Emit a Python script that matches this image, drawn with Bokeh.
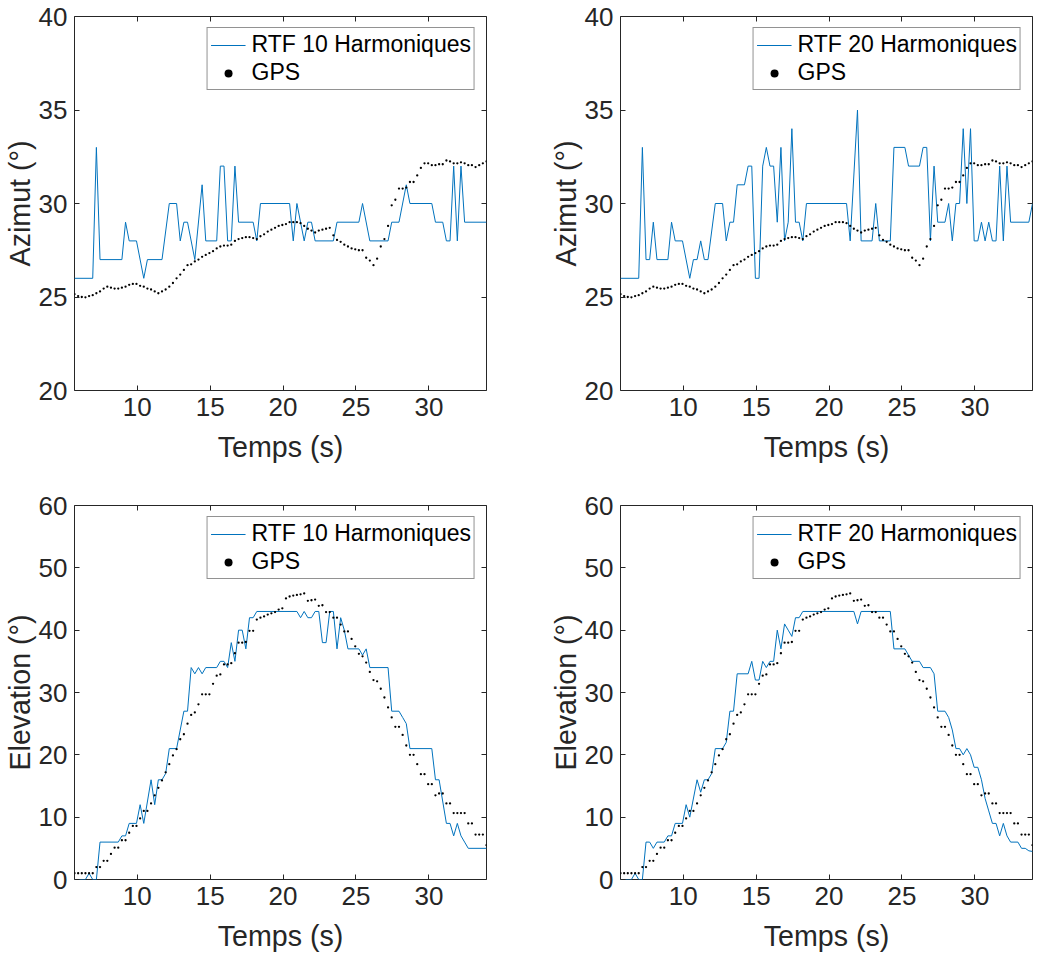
from bokeh.plotting import figure
from bokeh.layouts import column, row
from bokeh.models import (LinearAxis, Range1d, FixedTicker, Legend, LegendItem,
                          CustomJSTickFormatter)
from bokeh.embed import file_html
from bokeh.resources import INLINE

# ---------------- data ----------------
T0 = 5.7      # first sample time (s)
DT = 0.25     # sampling step (s)
X_START, X_END = 5.7, 33.95

gps_azimut = [
    25.15, 25.05, 25.00, 24.98, 25.05, 25.10, 25.20, 25.30, 25.45, 25.55,
    25.50, 25.45, 25.45, 25.50, 25.55, 25.65, 25.70, 25.70, 25.60, 25.55,
    25.45, 25.40, 25.30, 25.20, 25.30, 25.40, 25.55, 25.75, 26.00, 26.20,
    26.45, 26.70, 26.75, 26.90, 27.00, 27.15, 27.25, 27.35, 27.45, 27.60,
    27.70, 27.75, 27.75, 27.80, 28.00, 28.10, 28.15, 28.20, 28.20, 28.15,
    28.10, 28.25, 28.35, 28.50, 28.60, 28.70, 28.80, 28.85, 28.90, 29.00,
    29.00, 29.00, 28.95, 28.80, 28.65, 28.55, 28.45, 28.55, 28.60, 28.65,
    28.70, 28.30, 28.05, 27.95, 27.80, 27.70, 27.60, 27.55, 27.50, 27.50,
    27.10, 26.95, 26.70, 27.05, 27.70, 28.10, 28.80, 29.90, 30.20, 30.80,
    30.80, 30.85, 31.15, 31.15, 31.50, 31.90, 32.15, 32.15, 32.05, 32.05,
    32.10, 32.10, 32.30, 32.25, 32.15, 32.15, 32.20, 32.15, 32.05, 32.05,
    31.95, 32.05, 32.15, 32.25,
]

gps_elevation = [
    1.0, 1.0, 1.0, 1.0, 1.0, 1.0, 2.0, 2.0, 3.0, 3.0,
    4.1, 5.1, 5.1, 6.3, 6.3, 7.5, 8.6, 8.6, 9.8, 11.0,
    11.0, 12.2, 13.5, 14.7, 15.9, 17.2, 18.5, 19.9, 20.9, 22.5,
    23.3, 25.0, 26.4, 26.8, 28.1, 29.7, 29.7, 29.7, 31.4, 32.7,
    32.9, 34.5, 34.5, 34.7, 36.3, 38.0, 38.0, 38.1, 39.9, 39.9,
    41.7, 42.0, 42.2, 42.5, 42.7, 42.9, 43.3, 43.5, 45.1, 45.4,
    45.55, 45.65, 45.75, 45.9, 44.7, 44.8, 44.9, 43.9, 44.0, 42.9,
    42.9, 42.0, 42.0, 40.9, 39.8, 39.8, 38.6, 37.4, 36.2, 35.8,
    34.8, 33.3, 32.0, 31.8, 30.6, 29.2, 27.6, 26.0, 24.5, 24.5,
    23.2, 21.5, 20.0, 20.0, 18.5, 16.9, 16.9, 15.3, 15.3, 13.5,
    13.8, 13.8, 12.2, 12.2, 10.65, 10.65, 10.65, 10.65, 9.0, 9.0,
    7.2, 7.2, 7.2, 5.5,
]

# RTF estimates: (time, value) vertices of the polyline
rtf10_azimut = [
    (5.7, 26), (6.95, 26), (7.2, 33), (7.45, 27), (8.95, 27), (9.2, 29), (9.45, 28),
    (9.95, 28), (10.45, 26), (10.7, 27), (11.7, 27), (12.2, 30), (12.7, 30), (12.95, 28),
    (13.2, 29), (13.45, 29), (13.95, 27), (14.45, 31), (14.7, 28), (15.45, 28), (15.7, 32),
    (15.95, 32), (16.2, 28), (16.45, 28), (16.7, 32), (16.95, 29), (17.95, 29), (18.2, 28),
    (18.45, 30), (20.45, 30), (20.7, 28), (20.95, 30), (21.45, 28), (21.7, 29), (21.95, 29),
    (22.2, 28), (23.45, 28), (23.7, 29), (25.2, 29), (25.45, 30), (25.95, 28), (27.2, 28),
    (27.45, 29), (27.95, 29), (28.45, 31), (28.7, 30), (30.2, 30), (30.45, 29), (30.95, 29),
    (31.2, 28), (31.45, 28), (31.7, 32), (31.95, 28), (32.2, 32), (32.45, 29), (33.95, 29),
]

rtf20_azimut = [
    (5.7, 26), (6.95, 26), (7.2, 33), (7.45, 27), (7.7, 27), (7.95, 29), (8.2, 27),
    (8.95, 27), (9.2, 29), (9.45, 28), (9.95, 28), (10.45, 26), (10.7, 27), (10.95, 27),
    (11.2, 28), (11.45, 27), (11.7, 27), (12.2, 30), (12.7, 30), (12.95, 28), (13.2, 29),
    (13.45, 29), (13.7, 31), (14.2, 31), (14.45, 32), (14.7, 32), (14.95, 26), (15.2, 26),
    (15.45, 32), (15.7, 33), (15.95, 32), (16.2, 32), (16.45, 29), (16.7, 33), (16.95, 28),
    (17.2, 29), (17.45, 34), (17.7, 29), (17.95, 29), (18.2, 28), (18.45, 30), (21.2, 30),
    (21.45, 28), (21.95, 35), (22.2, 28), (22.95, 28), (23.2, 30), (23.45, 28), (24.2, 28),
    (24.45, 33), (25.2, 33), (25.45, 32), (26.2, 32), (26.45, 33), (26.7, 33), (26.95, 28),
    (27.2, 32), (27.45, 29), (27.95, 29), (28.2, 30), (28.45, 28), (28.7, 30), (28.95, 30),
    (29.2, 34), (29.45, 30), (29.7, 34), (29.95, 28), (30.2, 28), (30.45, 29), (30.7, 28),
    (30.95, 29), (31.2, 28), (31.45, 28), (31.7, 32), (31.95, 28), (32.2, 32), (32.45, 29),
    (33.7, 29), (33.95, 30),
]

rtf10_elevation = [
    (5.7, 0), (6.45, 0), (6.7, 1), (6.95, 0), (7.2, 0), (7.45, 6), (8.7, 6), (8.95, 7),
    (9.2, 7), (9.45, 9), (9.95, 9), (10.2, 12), (10.45, 9), (10.95, 16), (11.2, 12),
    (11.45, 16), (11.7, 16), (11.95, 17), (12.2, 21), (12.7, 21), (13.2, 27), (13.45, 27),
    (13.7, 34), (13.95, 33), (14.2, 34), (14.45, 33), (14.7, 34), (15.45, 34), (15.7, 35),
    (15.95, 35), (16.2, 34), (16.45, 38), (16.7, 35), (16.95, 40), (17.2, 40), (17.45, 37),
    (17.7, 42), (17.95, 42), (18.2, 43), (20.95, 43), (21.2, 42), (21.45, 43), (21.7, 42),
    (21.95, 42), (22.2, 43), (22.45, 43), (22.7, 38), (22.95, 38), (23.2, 43), (23.45, 43),
    (23.7, 37), (23.95, 42), (24.2, 40), (24.45, 37), (25.2, 37), (25.45, 36), (25.7, 37),
    (25.95, 34), (27.2, 34), (27.45, 27), (27.95, 27), (28.2, 26), (28.45, 25), (28.7, 21),
    (30.2, 21), (30.45, 16), (30.7, 16), (31.2, 9), (31.45, 9), (31.7, 7), (31.95, 9),
    (32.2, 7), (32.45, 6), (32.7, 5), (33.95, 5),
]

rtf20_elevation = [
    (5.7, 0), (6.45, 0), (6.7, 1), (6.95, 0), (7.2, 0), (7.45, 6), (7.7, 6), (7.95, 5),
    (8.2, 6), (8.7, 6), (8.95, 7), (9.2, 7), (9.45, 9), (9.95, 9), (10.2, 12), (10.45, 10),
    (10.95, 16), (11.2, 14), (11.45, 16), (11.7, 16), (11.95, 17), (12.2, 21), (12.7, 21),
    (12.95, 22), (13.2, 27), (13.45, 27), (13.7, 33), (14.45, 33), (14.7, 35), (14.95, 32),
    (15.2, 32), (15.45, 35), (15.7, 34), (15.95, 35), (16.2, 35), (16.45, 40), (16.7, 37),
    (16.95, 41), (17.2, 40), (17.45, 39), (17.7, 42), (17.95, 42), (18.2, 43), (21.7, 43),
    (21.95, 41), (22.2, 43), (24.2, 43), (24.45, 37), (25.2, 37), (25.45, 36), (25.7, 35),
    (26.2, 35), (26.45, 34), (26.95, 34), (27.2, 33), (27.45, 27), (27.95, 27), (28.2, 26),
    (28.45, 24), (28.7, 21), (28.95, 21), (29.2, 20), (29.45, 21), (29.7, 20), (29.95, 18),
    (30.2, 18), (30.45, 16), (30.7, 13), (30.95, 11), (31.2, 9), (31.45, 9), (31.7, 7),
    (31.95, 9), (32.2, 7), (32.45, 6), (32.95, 6), (33.2, 5), (33.45, 5), (33.7, 4.6),
    (33.95, 4.5),
]

x_ticks = [10, 15, 20, 25, 30]
az_range, az_ticks = (20, 40), [20, 25, 30, 35, 40]
el_range, el_ticks = (0, 60), [0, 10, 20, 30, 40, 50, 60]

# ---------------- style ----------------
FONT = "Liberation Sans"
AX_COL = "#262626"
LINE_COL = "#0072BD"
TICK_FS = "26px"
LABEL_FS = "28.6px"
LEG_FS = "23px"

FRAME_W, FRAME_H = 412, 374


def style_axis(ax, show_labels=True):
    ax.axis_line_color = None
    ax.major_tick_in = 5
    ax.major_tick_out = 0
    ax.minor_tick_in = 0
    ax.minor_tick_out = 0
    ax.major_tick_line_color = AX_COL
    ax.major_tick_line_width = 1
    if show_labels:
        ax.major_label_text_font = FONT
        ax.major_label_text_font_size = TICK_FS
        ax.major_label_text_color = AX_COL
        ax.axis_label_text_font = FONT
        ax.axis_label_text_font_size = LABEL_FS
        ax.axis_label_text_font_style = "normal"
        ax.axis_label_text_color = AX_COL
    else:
        ax.formatter = CustomJSTickFormatter(code="return '';")
        ax.major_label_text_font_size = "1px"
        ax.major_label_standoff = 0
        ax.axis_label_standoff = 0


def make_panel(line_pts, gps_vals, yr, yticks, ylabel, leg_label,
               mb_left, mb_right, mb_top, mb_bottom):
    p = figure(frame_width=FRAME_W, frame_height=FRAME_H,
               x_range=Range1d(X_START, X_END), y_range=Range1d(*yr),
               output_backend="svg", toolbar_location=None,
               min_border_left=mb_left, min_border_right=mb_right,
               min_border_top=mb_top, min_border_bottom=mb_bottom,
               background_fill_color="white", border_fill_color="white")
    p.xgrid.visible = False
    p.ygrid.visible = False
    p.outline_line_color = AX_COL
    p.outline_line_width = 1
    p.outline_line_alpha = 1

    p.xaxis.ticker = FixedTicker(ticks=x_ticks)
    p.yaxis.ticker = FixedTicker(ticks=yticks)
    p.xaxis.axis_label = "Temps (s)"
    p.yaxis.axis_label = ylabel
    for ax in p.xaxis:
        style_axis(ax)
        ax.major_label_standoff = 7
        ax.axis_label_standoff = 12
    for ax in p.yaxis:
        style_axis(ax)
        ax.major_label_standoff = 7
        ax.axis_label_standoff = 0

    top = LinearAxis(ticker=FixedTicker(ticks=x_ticks))
    style_axis(top, show_labels=False)
    p.add_layout(top, "above")
    right = LinearAxis(ticker=FixedTicker(ticks=yticks))
    style_axis(right, show_labels=False)
    p.add_layout(right, "right")

    lt = [pt[0] for pt in line_pts]
    lv = [pt[1] for pt in line_pts]
    r_line = p.line(lt, lv, line_color=LINE_COL, line_width=1)

    gt = [T0 + DT * i for i in range(len(gps_vals))]
    r_gps = p.scatter(gt, gps_vals, marker="circle", size=2.3,
                      fill_color="black", line_color=None)

    legend = Legend(items=[LegendItem(label=leg_label, renderers=[r_line]),
                           LegendItem(label="GPS", renderers=[r_gps])],
                    location="top_right", margin=11, padding=3, spacing=1,
                    glyph_width=35, glyph_height=20, label_standoff=6,
                    label_height=20,
                    label_text_font=FONT, label_text_font_size=LEG_FS,
                    label_text_color="black",
                    border_line_color=AX_COL, border_line_width=1,
                    background_fill_color="white", background_fill_alpha=1)
    p.add_layout(legend)
    return p


p1 = make_panel(rtf10_azimut, gps_azimut, az_range, az_ticks, "Azimut (°)",
                "RTF 10 Harmoniques", 71, 14, 16, 70)
p2 = make_panel(rtf20_azimut, gps_azimut, az_range, az_ticks, "Azimut (°)",
                "RTF 20 Harmoniques", 120, 3, 16, 70)
p3 = make_panel(rtf10_elevation, gps_elevation, el_range, el_ticks, "Elevation (°)",
                "RTF 10 Harmoniques", 71, 14, 40, 66)
p4 = make_panel(rtf20_elevation, gps_elevation, el_range, el_ticks, "Elevation (°)",
                "RTF 20 Harmoniques", 120, 3, 40, 66)

layout = column(row(p1, p2), row(p3, p4))

open("out.html", "w").write(file_html(layout, INLINE))
